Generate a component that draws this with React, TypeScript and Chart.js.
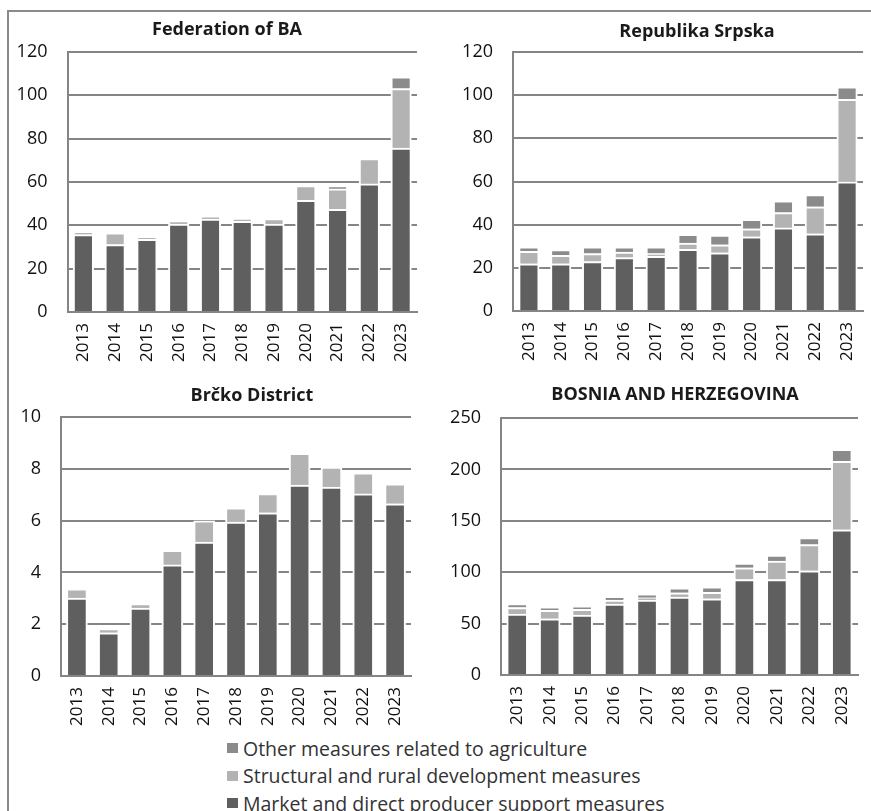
import React, { useEffect, useRef } from 'react';
import { Chart, registerables } from 'chart.js';

Chart.register(...registerables);

const years = ['2013', '2014', '2015', '2016', '2017', '2018', '2019', '2020', '2021', '2022', '2023'];

const seriesMarket = 'Market and direct producer support measures';
const seriesStructural = 'Structural and rural development measures';
const seriesOther = 'Other measures related to agriculture';

const fbaMarket = [35.7, 31.1, 33.5, 40.6, 42.9, 41.8, 40.6, 51.5, 47.4, 59.1, 75.7];
const fbaStructural = [1.3, 5.4, 0.9, 1.3, 1.1, 1.2, 2.5, 6.8, 9.5, 11.7, 27.4];
const fbaOther = [0, 0, 0, 0, 0, 0, 0, 0, 1.1, 0, 5.4];

const rsMarket = [21.9, 21.9, 22.9, 24.7, 25.3, 28.6, 27.0, 34.4, 38.5, 35.8, 59.9];
const rsStructural = [5.7, 3.9, 3.7, 2.6, 1.3, 2.9, 3.7, 3.7, 7.1, 12.5, 38.2];
const rsOther = [2.1, 2.6, 3.1, 2.4, 3.1, 4.0, 4.5, 4.4, 5.5, 5.6, 5.8];

const bdMarket = [3.01, 1.67, 2.62, 4.29, 5.17, 5.94, 6.30, 7.37, 7.29, 7.03, 6.65];
const bdStructural = [0.36, 0.16, 0.18, 0.56, 0.82, 0.55, 0.74, 1.23, 0.78, 0.81, 0.77];
const bdOther = [0, 0, 0, 0, 0, 0, 0, 0, 0, 0, 0];

const bihMarket = [59.3, 54.7, 58.3, 69.0, 72.9, 75.8, 74.2, 92.9, 92.9, 101.4, 141.2];
const bihStructural = [6.4, 8.1, 5.5, 3.9, 2.2, 4.2, 6.1, 11.4, 17.9, 25.5, 66.7];
const bihOther = [3.6, 2.9, 3.2, 3.2, 3.9, 4.8, 5.5, 4.5, 5.8, 6.8, 11.7];

const colorMarket = '#5f5f5f';
const colorStructural = '#b3b3b3';
const colorOther = '#8b8b8b';

const FONT = "'Open Sans', 'Noto Sans', sans-serif";

type PanelDef = {
  title: string;
  market: number[];
  structural: number[];
  other: number[];
  max: number;
  step: number;
  left: number;
  top: number;
  width: number;
  height: number;
  yWidth: number;
  padRight: number;
  padTop: number;
  xHeight: number;
  titleX: number;
  titleY: number;
  barW: number;
};

const panels: PanelDef[] = [
  {
    title: 'Federation of BA', market: fbaMarket, structural: fbaStructural, other: fbaOther,
    max: 120, step: 20,
    left: 10, top: 13, width: 430, height: 357,
    yWidth: 57.5, padRight: 23, padTop: 39, xHeight: 58,
    titleX: 217, titleY: 22, barW: 20.5,
  },
  {
    title: 'Republika Srpska', market: rsMarket, structural: rsStructural, other: rsOther,
    max: 120, step: 20,
    left: 440, top: 13, width: 460, height: 357,
    yWidth: 73, padRight: 37, padTop: 39, xHeight: 59,
    titleX: 257, titleY: 23.5, barW: 20.5,
  },
  {
    title: 'Brčko District', market: bdMarket, structural: bdStructural, other: bdOther,
    max: 10, step: 2,
    left: 10, top: 372, width: 430, height: 360,
    yWidth: 51, padRight: 29, padTop: 45, xHeight: 56,
    titleX: 242, titleY: 28.5, barW: 21,
  },
  {
    title: 'BOSNIA AND HERZEGOVINA', market: bihMarket, structural: bihStructural, other: bihOther,
    max: 250, step: 50,
    left: 440, top: 372, width: 460, height: 360,
    yWidth: 61, padRight: 42, padTop: 46, xHeight: 57,
    titleX: 235, titleY: 28, barW: 21,
  },
];

function PanelChart({ def }: { def: PanelDef }) {
  const ref = useRef<HTMLCanvasElement | null>(null);
  useEffect(() => {
    if (!ref.current) return;
    const titlePlugin = {
      id: 'panelTitle',
      afterDraw(chart: any) {
        const ctx = chart.ctx;
        ctx.save();
        ctx.font = `bold 18px ${FONT}`;
        ctx.fillStyle = '#1a1a1a';
        ctx.textAlign = 'center';
        ctx.textBaseline = 'alphabetic';
        ctx.fillText(def.title, def.titleX, def.titleY);
        ctx.restore();
      },
    };
    const border = { top: 2, left: 2, right: 2, bottom: 0 };
    const chart = new Chart(ref.current, {
      type: 'bar',
      data: {
        labels: years,
        datasets: [
          { label: seriesMarket, data: def.market, backgroundColor: colorMarket, borderColor: '#ffffff', borderWidth: border, borderSkipped: 'start', barThickness: def.barW },
          { label: seriesStructural, data: def.structural, backgroundColor: colorStructural, borderColor: '#ffffff', borderWidth: border, borderSkipped: 'start', barThickness: def.barW },
          { label: seriesOther, data: def.other, backgroundColor: colorOther, borderColor: '#ffffff', borderWidth: border, borderSkipped: 'start', barThickness: def.barW },
        ],
      },
      options: {
        responsive: false,
        animation: false,
        devicePixelRatio: 1,
        layout: { padding: { left: 0, right: def.padRight, top: def.padTop, bottom: 0 } },
        plugins: { legend: { display: false }, tooltip: { enabled: false }, title: { display: false } },
        scales: {
          x: {
            stacked: true,
            grid: { display: false, drawTicks: false },
            border: { display: true, color: '#858585', width: 2 },
            ticks: {
              autoSkip: false, minRotation: 90, maxRotation: 90, padding: 11,
              color: '#111111', font: { family: FONT, size: 17 },
            },
            afterFit: (scale: any) => { scale.height = def.xHeight; },
          },
          y: {
            stacked: true,
            min: 0,
            max: def.max,
            grid: { color: '#858585', lineWidth: 2, drawTicks: false },
            border: { display: true, color: '#858585', width: 2 },
            ticks: {
              stepSize: def.step, padding: 20,
              color: '#111111', font: { family: FONT, size: 18 },
            },
            afterFit: (scale: any) => { scale.width = def.yWidth; },
          },
        },
      },
      plugins: [titlePlugin],
    } as any);
    return () => chart.destroy();
  }, [def]);
  return (
    <canvas
      ref={ref}
      width={def.width}
      height={def.height}
      style={{ position: 'absolute', left: def.left, top: def.top, width: def.width, height: def.height }}
    />
  );
}

const legendItems = [
  { label: seriesOther, color: colorOther },
  { label: seriesStructural, color: colorStructural },
  { label: seriesMarket, color: colorMarket },
];

export default function App() {
  return (
    <div style={{ position: 'absolute', left: 0, top: 0, width: 871, height: 811, overflow: 'hidden', background: '#ffffff' }}>
      <div style={{ position: 'absolute', left: 7, top: 10, width: 1000, height: 1000, border: '2px solid #8a8a8a', boxSizing: 'border-box' }} />
      {panels.map((p) => <PanelChart key={p.title} def={p} />)}
      {legendItems.map((it, i) => (
        <div key={it.label} style={{ position: 'absolute', left: 227, top: 734 + i * 27.5, height: 28, display: 'flex', alignItems: 'center', fontFamily: FONT, fontSize: 19.5, color: '#333333', whiteSpace: 'nowrap' }}>
          <span style={{ display: 'inline-block', width: 11, height: 10, background: it.color, marginRight: 5 }} />
          <span>{it.label}</span>
        </div>
      ))}
    </div>
  );
}
